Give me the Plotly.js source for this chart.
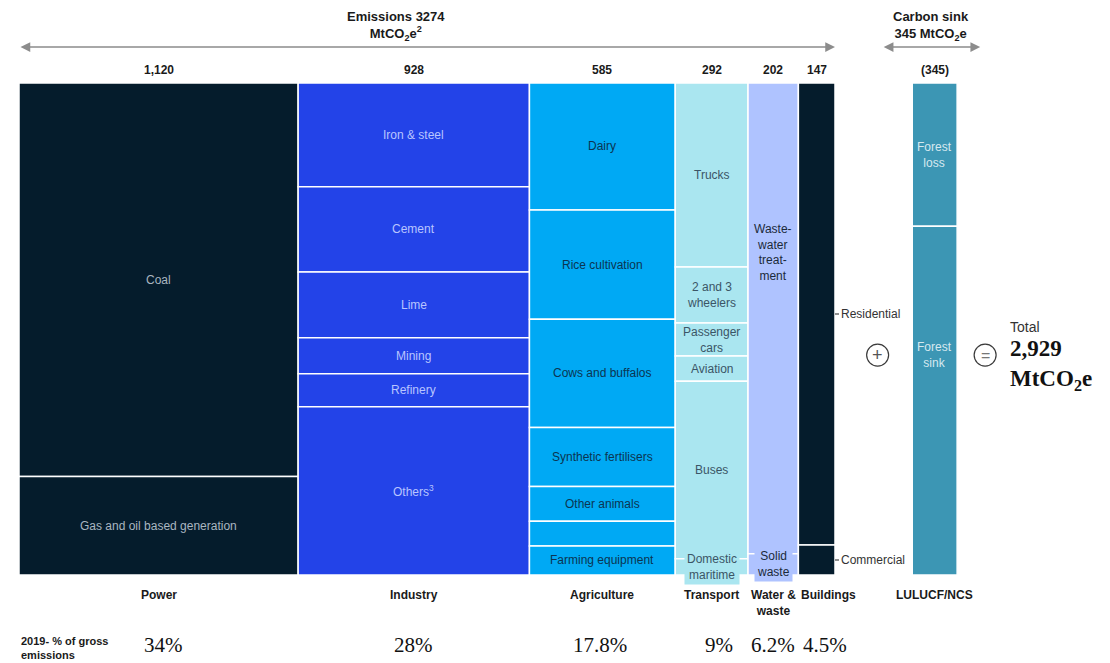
<!DOCTYPE html>
<html>
<head>
<meta charset="utf-8">
<script src="https://cdn.plot.ly/plotly-3.0.1.min.js"></script>
<style>
  html, body { margin: 0; padding: 0; background: #ffffff; }
  #chart { width: 1110px; height: 663px; }
</style>
</head>
<body>
<div id="chart"></div>
<script>
// ---- Data (MtCO2e, 2019) ----
const sectors = ['Power', 'Industry', 'Agriculture', 'Transport', 'Water &amp;<br>waste', 'Buildings'];
const sectorTotals = [1120, 928, 585, 292, 202, 147];
const sectorTotalLabels = ['1,120', '928', '585', '292', '202', '147'];
const grossShareLabels = ['34%', '28%', '17.8%', '9%', '6.2%', '4.5%'];

// Split of each sector, % of the sector column
const powerParts = ['Coal', 'Gas and oil based generation'];
const powerShares = [80.0, 20.0];
const industryParts = ['Iron &amp; steel', 'Cement', 'Lime', 'Mining', 'Refinery', 'Others<sup>3</sup>'];
const industryShares = [21.1, 17.3, 13.4, 7.3, 6.7, 34.2];
const agricultureParts = ['Dairy', 'Rice cultivation', 'Cows and buffalos', 'Synthetic fertilisers', 'Other animals', '', 'Farming equipment'];
const agricultureShares = [25.8, 22.2, 22.0, 12.0, 7.1, 5.0, 5.9];
const transportParts = ['Trucks', '2 and 3<br>wheelers', 'Passenger<br>cars', 'Aviation', 'Buses', 'Domestic<br>maritime'];
const transportShares = [37.4, 11.4, 6.7, 5.1, 36.1, 3.3];
const waterParts = ['Waste-<br>water<br>treat-<br>ment', 'Solid<br>waste'];
const waterShares = [95.7, 4.3];
const buildingParts = ['Residential', 'Commercial'];
const buildingShares = [93.9, 6.1];

const sinkName = 'LULUCF/NCS';
const sinkTotalLabel = '(345)';
const sinkParts = ['Forest<br>loss', 'Forest<br>sink'];
const sinkShares = [29.1, 70.9];

const grossEmissions = 3274;
const carbonSink = 345;
const netEmissionsLabel = '2,929';

// ---- Styling ----
const SANS = 'Liberation Sans, Arial, Helvetica, sans-serif';
const SERIF = 'Liberation Serif, Georgia, Times New Roman, serif';
const sectorColors = ['#051c2c', '#2343e8', '#00a9f4', '#aae6f0', '#afc3ff', '#051c2c'];
const sectorTextColors = ['#a9b6c0', '#b9c5ff', '#0b3552', '#3b5566', '#1b2a3a', '#ffffff'];
const sinkColor = '#3c96b4';
const sinkTextColor = '#d6e9f0';

const W = 1110, H = 663;
const M = { l: 19, r: 0, t: 83, b: 88 };
const PLOT_H = H - M.t - M.b;
const PX = 816 / grossEmissions;              // pixels per MtCO2e along x
const XMAX = (W - M.l - M.r) / PX;
const SINK_START = grossEmissions + 310;      // gap before the sink column
const SINK_WIDTH = 180;                       // drawn width of the sink column
const sinkCenter = SINK_START + SINK_WIDTH / 2;

const sectorParts = [powerParts, industryParts, agricultureParts, transportParts, waterParts, buildingParts];
const sectorShares = [powerShares, industryShares, agricultureShares, transportShares, waterShares, buildingShares];

// label placement inside a segment (fraction from its top), default 0.5
const labelFrac = { '4-0': 0.36, 'sink-1': 0.37 };
// labels that sit in a boxed tag over a thin segment
const boxedLabels = { '3-5': true, '4-1': true };
// sector rows whose parts are labelled outside the column
const sideLabelled = { 5: true };
// horizontal nudges (px) for the labels under the columns
const nameShiftPx = [0, 0, 0, 0, 0, 12];
const shareShiftPx = [5, 0, -2, 7, 0, 8];

const traces = [];
const annotations = [];
const darkText = '#1a1a1a';

function cumBase(arr) {
  const out = []; let s = 0;
  arr.forEach(v => { out.push(s); s += v; });
  return out;
}

let left = 0;
sectorTotals.forEach((tot, i) => {
  const c = left + tot / 2;
  const shares = sectorShares[i];
  const bases = cumBase(shares);
  traces.push({
    type: 'bar',
    x: shares.map(() => c),
    width: shares.map(() => tot),
    base: bases,
    y: shares,
    marker: { color: sectorColors[i], line: { color: '#ffffff', width: 1.5 } },
    hoverinfo: 'skip',
    showlegend: false
  });
  sectorParts[i].forEach((name, j) => {
    if (!name) return;
    const key = i + '-' + j;
    const f = labelFrac[key] !== undefined ? labelFrac[key] : 0.5;
    const y = bases[j] + shares[j] * f;
    if (sideLabelled[i]) {
      annotations.push({
        x: left + tot, y: y, xref: 'x', yref: 'y',
        text: name, showarrow: true, arrowhead: 0, arrowwidth: 1.2, arrowcolor: '#222',
        ax: 4, ay: 0, axref: 'pixel', ayref: 'pixel', xanchor: 'left', yanchor: 'middle',
        font: { family: SANS, size: 12, color: '#333' }
      });
    } else {
      const a = {
        x: c, y: y, xref: 'x', yref: 'y', text: name, showarrow: false,
        font: { family: SANS, size: 12, color: sectorTextColors[i] }, align: 'center'
      };
      if (boxedLabels[key]) { a.bgcolor = sectorColors[i]; a.borderpad = 2; }
      annotations.push(a);
    }
  });
  // total above the column
  annotations.push({
    x: c, y: 1, xref: 'x', yref: 'paper', yanchor: 'bottom', yshift: 4,
    text: '<b>' + sectorTotalLabels[i] + '</b>', showarrow: false,
    font: { family: SANS, size: 12, color: darkText }
  });
  // sector name below
  annotations.push({
    x: c, y: 0, xref: 'x', yref: 'paper', yanchor: 'top', yshift: -11, xshift: nameShiftPx[i],
    text: '<b>' + sectors[i] + '</b>', showarrow: false,
    font: { family: SANS, size: 12, color: darkText }
  });
  // share of gross emissions
  annotations.push({
    x: c, y: 0, xref: 'x', yref: 'paper', yanchor: 'middle', yshift: -70, xshift: shareShiftPx[i],
    text: grossShareLabels[i], showarrow: false,
    font: { family: SERIF, size: 21, color: '#111' }
  });
  left += tot;
});

// carbon sink column
const sinkBases = cumBase(sinkShares);
traces.push({
  type: 'bar',
  x: sinkShares.map(() => sinkCenter),
  width: sinkShares.map(() => SINK_WIDTH),
  base: sinkBases,
  y: sinkShares,
  marker: { color: sinkColor, line: { color: '#ffffff', width: 1.5 } },
  hoverinfo: 'skip',
  showlegend: false
});
sinkParts.forEach((name, j) => {
  const key = 'sink-' + j;
  const f = labelFrac[key] !== undefined ? labelFrac[key] : 0.5;
  annotations.push({
    x: sinkCenter, y: sinkBases[j] + sinkShares[j] * f, xref: 'x', yref: 'y',
    text: name, showarrow: false, font: { family: SANS, size: 12, color: sinkTextColor }
  });
});
annotations.push({
  x: sinkCenter, y: 1, xref: 'x', yref: 'paper', yanchor: 'bottom', yshift: 4,
  text: '<b>' + sinkTotalLabel + '</b>', showarrow: false,
  font: { family: SANS, size: 12, color: darkText }
});
annotations.push({
  x: sinkCenter, y: 0, xref: 'x', yref: 'paper', yanchor: 'top', yshift: -11,
  text: '<b>' + sinkName + '</b>', showarrow: false,
  font: { family: SANS, size: 12, color: darkText }
});

// headers and span arrows
const arrowY = 1 + 36 / PLOT_H;
const headerY = 1 + 57 / PLOT_H;
const sinkSpanCenter = sinkCenter - 3.5 / PX;
annotations.push({
  x: (396 - M.l) / PX, y: headerY, xref: 'x', yref: 'paper', yanchor: 'middle',
  text: '<b>Emissions ' + grossEmissions + '<br>MtCO<sub>2</sub>e<sup>2</sup></b>', showarrow: false,
  font: { family: SANS, size: 13, color: darkText }
});
annotations.push({
  x: sinkSpanCenter, y: headerY, xref: 'x', yref: 'paper', yanchor: 'middle',
  text: '<b>Carbon sink<br>' + carbonSink + ' MtCO<sub>2</sub>e</b>', showarrow: false,
  font: { family: SANS, size: 13, color: darkText }
});
const arrowStyle = {
  text: '', showarrow: true, arrowside: 'end+start',
  arrowhead: 2, startarrowhead: 2, arrowsize: 1.5, startarrowsize: 1.5, arrowwidth: 1.3,
  arrowcolor: '#8c8c8c', axref: 'pixel', ayref: 'pixel', ay: 0, xref: 'x', yref: 'paper'
};
annotations.push(Object.assign({}, arrowStyle, { x: grossEmissions, y: arrowY, ax: -grossEmissions * PX }));
annotations.push(Object.assign({}, arrowStyle, { x: sinkSpanCenter + 49 / PX, y: arrowY, ax: -98 }));

// operators and net total
const opY = 55.3;
const plusX = (grossEmissions + SINK_START) / 2 + 4 / PX;
const equalsX = SINK_START + SINK_WIDTH + 28 / PX;
traces.push({
  type: 'scatter', mode: 'markers', x: [plusX, equalsX], y: [opY, opY],
  marker: { symbol: 'circle-open', size: 22, color: '#3a3a3a', line: { width: 1.2, color: '#3a3a3a' } },
  hoverinfo: 'skip', showlegend: false, cliponaxis: false
});
annotations.push({ x: plusX, y: opY, xref: 'x', yref: 'y', text: '+', showarrow: false,
  font: { family: SANS, size: 18, color: '#555' } });
annotations.push({ x: equalsX, y: opY, xref: 'x', yref: 'y', text: '=', showarrow: false,
  font: { family: SANS, size: 16, color: '#777' } });
const totalX = SINK_START + SINK_WIDTH + 51 / PX;
annotations.push({ x: totalX, y: 49.6, xref: 'x', yref: 'y', xanchor: 'left', text: 'Total',
  showarrow: false, font: { family: SANS, size: 14, color: '#333' } });
annotations.push({ x: totalX, y: 57.3, xref: 'x', yref: 'y', xanchor: 'left', align: 'left',
  text: '<b>' + netEmissionsLabel + '<br>MtCO<sub>2</sub>e</b>', showarrow: false,
  font: { family: SERIF, size: 23, color: '#111' } });

// row caption for the shares
annotations.push({
  x: 0, y: 0, xref: 'paper', yref: 'paper', xanchor: 'left', yanchor: 'middle', yshift: -73,
  align: 'left', text: '<b>2019- % of gross<br>emissions</b>', showarrow: false,
  font: { family: SANS, size: 11, color: darkText }
});

const layout = {
  width: W, height: H,
  margin: M,
  paper_bgcolor: '#ffffff', plot_bgcolor: '#ffffff',
  barmode: 'overlay',
  showlegend: false,
  xaxis: { range: [0, XMAX], visible: false, fixedrange: true },
  yaxis: { range: [100, 0], visible: false, fixedrange: true },
  annotations: annotations
};

Plotly.newPlot('chart', traces, layout, { displayModeBar: false, staticPlot: true });
</script>
</body>
</html>
